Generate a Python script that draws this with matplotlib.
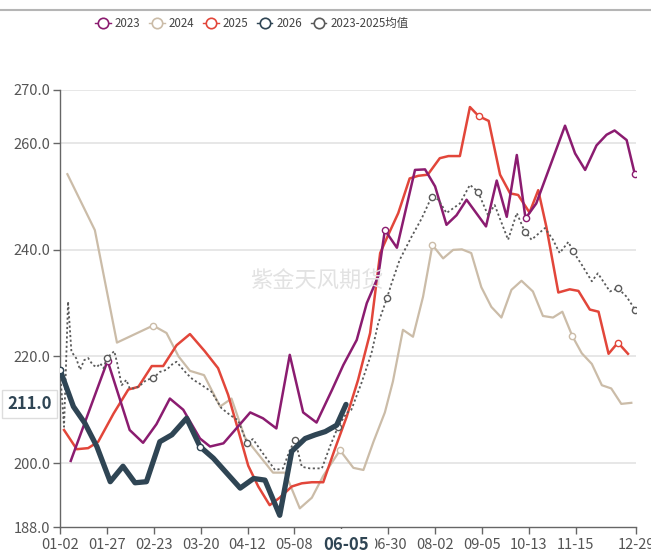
import matplotlib
matplotlib.use("Agg")
import matplotlib.pyplot as plt
import matplotlib.transforms as mtransforms
from matplotlib.lines import Line2D

plt.rcParams['font.family'] = ['Liberation Sans Narrow', 'Noto Sans CJK SC', 'DejaVu Sans']

# 横轴为日期类别序号，刻度标签按类别位置给出
tick_pos = [0, 7, 14, 21, 28, 35, 42, 49, 56, 63, 70, 77, 86]
tick_labels = ['01-02', '01-27', '02-23', '03-20', '04-12', '05-08', '06-05',
               '06-30', '08-02', '09-05', '10-13', '11-15', '12-29']
y_ticks = [188, 200, 220, 240, 260, 270]

x_2023 = [1.6, 7.1, 10.4, 12.4, 14.4, 16.4, 18.4, 20.9, 22.4, 24.4, 28.4, 30.3, 32.3,
          34.3, 36.3, 38.3, 40.6, 42.3, 44.3, 45.8, 47.5, 48.5, 50.3, 53.0, 54.5, 56.0,
          57.7, 59.2, 60.7, 63.6, 65.2, 66.7, 68.2, 69.5, 71.1, 75.4, 76.9, 78.4, 80.1,
          81.6, 82.8, 84.6, 85.8]
y_2023 = [200.4, 219.2, 206.2, 203.8, 207.3, 212.1, 210.0, 204.6, 203.1, 203.7, 209.5,
          208.4, 206.5, 220.3, 209.5, 207.6, 213.7, 218.4, 223.1, 230.0, 235.0, 243.7,
          240.4, 255.0, 255.1, 251.9, 244.7, 246.5, 249.4, 244.4, 253.0, 246.2, 257.8,
          245.9, 248.7, 263.3, 258.1, 255.0, 259.6, 261.6, 262.4, 260.6, 254.3]

x_2024 = [1.1, 5.2, 8.5, 13.9, 15.9, 17.7, 19.4, 21.5, 23.9, 25.6, 27.6, 31.8, 33.6,
          35.8, 37.6, 39.3, 41.8, 43.8, 45.3, 46.8, 48.5, 49.7, 51.2, 52.7, 54.2, 55.6,
          57.2, 58.7, 60.0, 61.4, 62.9, 64.4, 65.9, 67.4, 68.9, 70.6, 72.1, 73.6, 75.0,
          76.5, 77.9, 79.4, 80.9, 82.3, 83.8, 85.3]
y_2024 = [254.2, 243.7, 222.6, 225.8, 224.4, 220.0, 217.3, 216.5, 210.6, 212.1, 204.8,
          198.2, 198.2, 191.5, 193.5, 197.6, 202.4, 199.1, 198.7, 204.0, 209.5, 215.3,
          225.0, 223.7, 231.2, 240.9, 238.4, 240.0, 240.1, 239.4, 233.0, 229.3, 227.3,
          232.5, 234.2, 232.2, 227.6, 227.3, 228.4, 223.8, 220.6, 218.6, 214.6, 214.0,
          211.1, 211.3]

x_2025 = [0.6, 2.5, 4.2, 5.7, 8.0, 10.2, 11.7, 13.7, 15.4, 17.4, 19.4, 21.6, 23.6, 25.1,
          26.6, 28.1, 29.6, 31.3, 32.8, 34.6, 36.1, 37.6, 39.3, 41.0, 42.8, 44.5, 46.3,
          47.8, 49.0, 50.5, 52.2, 53.5, 54.9, 56.7, 58.0, 59.7, 61.2, 62.5, 64.0, 65.7,
          67.2, 68.4, 70.1, 71.4, 72.6, 74.4, 76.1, 77.4, 79.1, 80.4, 81.9, 83.3, 84.8]
y_2025 = [206.2, 202.6, 202.8, 204.0, 209.3, 213.8, 214.3, 218.2, 218.2, 222.1, 224.2,
          221.0, 217.8, 212.8, 206.2, 199.5, 195.6, 192.1, 193.5, 195.6, 196.2, 196.4,
          196.4, 202.5, 208.7, 215.6, 224.4, 239.4, 242.8, 246.9, 253.4, 253.9, 254.1,
          257.2, 257.6, 257.6, 266.8, 265.1, 264.2, 254.1, 250.6, 250.3, 247.0, 251.2,
          244.4, 232.0, 232.6, 232.3, 228.8, 228.4, 220.5, 222.6, 220.5]

x_2026 = [0.0, 2.0, 3.7, 5.5, 7.5, 9.4, 11.2, 12.9, 14.9, 16.7, 18.9, 20.9, 22.9, 24.9,
          26.9, 28.9, 30.6, 32.8, 34.6, 36.6, 38.1, 39.6, 41.3, 42.7]
y_2026 = [217.5, 210.6, 207.5, 203.1, 196.5, 199.4, 196.3, 196.5, 204.0, 205.3, 208.4,
          203.1, 200.9, 198.1, 195.3, 197.1, 196.8, 190.2, 202.2, 204.6, 205.3, 205.9,
          207.1, 211.0]

x_avg = [0.0, 0.6, 1.2, 1.7, 2.4, 3.0, 3.6, 4.2, 4.9, 5.5, 6.0, 6.5, 7.0, 8.1, 8.6, 9.2,
         9.9, 10.4, 11.2, 11.9, 12.9, 13.9, 14.9, 15.9, 16.9, 17.4, 18.2, 18.9, 19.9,
         20.6, 22.6, 24.1, 25.4, 26.6, 27.9, 28.8, 30.3, 32.1, 33.3, 34.3, 35.1, 36.1,
         37.3, 39.1, 40.3, 41.5, 42.8, 43.5, 45.0, 46.5, 47.5, 48.8, 49.5, 50.7, 52.5,
         54.0, 55.5, 56.5, 57.7, 59.7, 61.2, 62.4, 63.9, 64.9, 66.9, 68.2, 69.4, 70.4,
         72.4, 73.6, 74.6, 75.9, 76.6, 77.9, 79.4, 80.3, 82.1, 83.3, 84.6, 85.9]
y_avg = [217.5, 206.8, 230.3, 220.9, 219.7, 217.5, 219.3, 219.7, 218.4, 218.0, 218.7,
         217.8, 219.7, 221.0, 218.4, 214.6, 215.6, 214.0, 214.0, 214.5, 215.6, 215.9,
         217.1, 217.5, 218.7, 219.0, 217.8, 216.8, 215.6, 215.1, 213.4, 210.3, 209.0,
         208.0, 203.8, 204.5, 201.8, 198.7, 199.0, 202.4, 204.3, 199.3, 199.0, 199.0,
         203.1, 206.8, 209.4, 210.0, 215.0, 220.6, 226.2, 230.9, 233.7, 238.1, 242.5,
         245.9, 250.0, 249.4, 246.9, 248.7, 252.2, 250.9, 246.5, 248.4, 241.9, 246.9,
         243.4, 241.9, 244.1, 241.9, 239.4, 241.5, 239.7, 237.2, 234.1, 235.6, 232.2,
         232.8, 231.2, 228.7]

series_names = ['2023', '2024', '2025', '2026', '2023-2025均值']
series_colors = ['#8b1c70', '#cbbca8', '#e2463a', '#2f4554', '#5a5a5a']

fig = plt.figure(figsize=(6.51, 5.53), dpi=100)
ax = fig.add_axes([0.0922, 0.047, 0.8848, 0.7903])

mk = dict(marker='o', markersize=4.5, markerfacecolor='white', markeredgewidth=1)

ax.plot(x_2024, y_2024, color=series_colors[1], lw=1.6, markevery=[3, 16, 25, 39],
        markeredgecolor=series_colors[1], zorder=3, **mk)
ax.plot(x_2025, y_2025, color=series_colors[2], lw=1.8, markevery=[37, 51],
        markeredgecolor=series_colors[2], zorder=4, **mk)
ax.plot(x_2023, y_2023, color=series_colors[0], lw=1.8, markevery=[1, 21, 33, 42],
        markeredgecolor=series_colors[0], zorder=5, **mk)
ax.plot(x_avg, y_avg, color=series_colors[4], lw=1.3, ls=(0, (1.2, 1.4)),
        markevery=[0, 12, 21, 34, 40, 45, 51, 56, 61, 66, 72, 77, 79],
        markeredgecolor=series_colors[4], zorder=6, **mk)
ax.plot(x_2026, y_2026, color=series_colors[3], lw=3.8, solid_joinstyle='round',
        solid_capstyle='round', markevery=[0, 11], markeredgecolor=series_colors[3],
        zorder=7, **mk)

ax.set_xlim(0, 86)
ax.set_ylim(188, 270)
ax.set_yticks(y_ticks)
ax.set_yticklabels(['%.1f' % v for v in y_ticks])
ax.set_xticks(tick_pos)
ax.set_xticklabels([t if t != '06-05' else '' for t in tick_labels])
ax.tick_params(axis='both', colors='#666666', labelcolor='#555555', labelsize=10.5,
               length=5, width=1)
ax.tick_params(axis='x', pad=3)
ax.tick_params(axis='y', pad=2)

for s in ['top', 'right']:
    ax.spines[s].set_visible(False)
for s in ['left', 'bottom']:
    ax.spines[s].set_color('#666666')
    ax.spines[s].set_linewidth(1)

for v in y_ticks[1:]:
    ax.axhline(v, color='#e3e3e3', lw=1.2, zorder=0)

# 最新值标签
trans = mtransforms.blended_transform_factory(ax.transAxes, ax.transData)
ax.text(-0.014, y_2026[-1], '%.1f' % y_2026[-1], transform=trans, ha='right', va='center',
        fontsize=12, fontweight='bold', color='#2f4554', zorder=10,
        bbox=dict(boxstyle='square,pad=0.3', fc='white', ec='#dddddd', lw=1))
trans_x = mtransforms.blended_transform_factory(ax.transData, ax.transAxes)
ax.text(x_2026[-1], -0.02, '06-05', transform=trans_x, ha='center', va='top',
        fontsize=12, fontweight='bold', color='#2f4554', zorder=10, clip_on=False,
        bbox=dict(boxstyle='square,pad=0.4', fc='white', ec='none'))

# 水印
fig.text(0.4865, 0.491, '紫金天风期货', fontsize=16, color='#e2e2e2',
         family=['Noto Sans CJK SC'], ha='center', va='center', zorder=1)

# 顶部分隔线
fig.add_artist(Line2D([0, 1], [0.982, 0.982], color='#b5b5b5', lw=1.5,
                      transform=fig.transFigure))

handles = [Line2D([0], [0], color=c, lw=1, marker='o', markersize=7.5,
                  markerfacecolor='white', markeredgecolor=c, markeredgewidth=1.2)
           for c in series_colors]
fig.legend(handles, series_names, loc='center', bbox_to_anchor=(0.387, 0.957), ncol=5,
           frameon=False, fontsize=8.3, handlelength=1.35, handletextpad=0.35,
           columnspacing=0.75, labelcolor='#444444')

fig.savefig('out.png', dpi=100)
